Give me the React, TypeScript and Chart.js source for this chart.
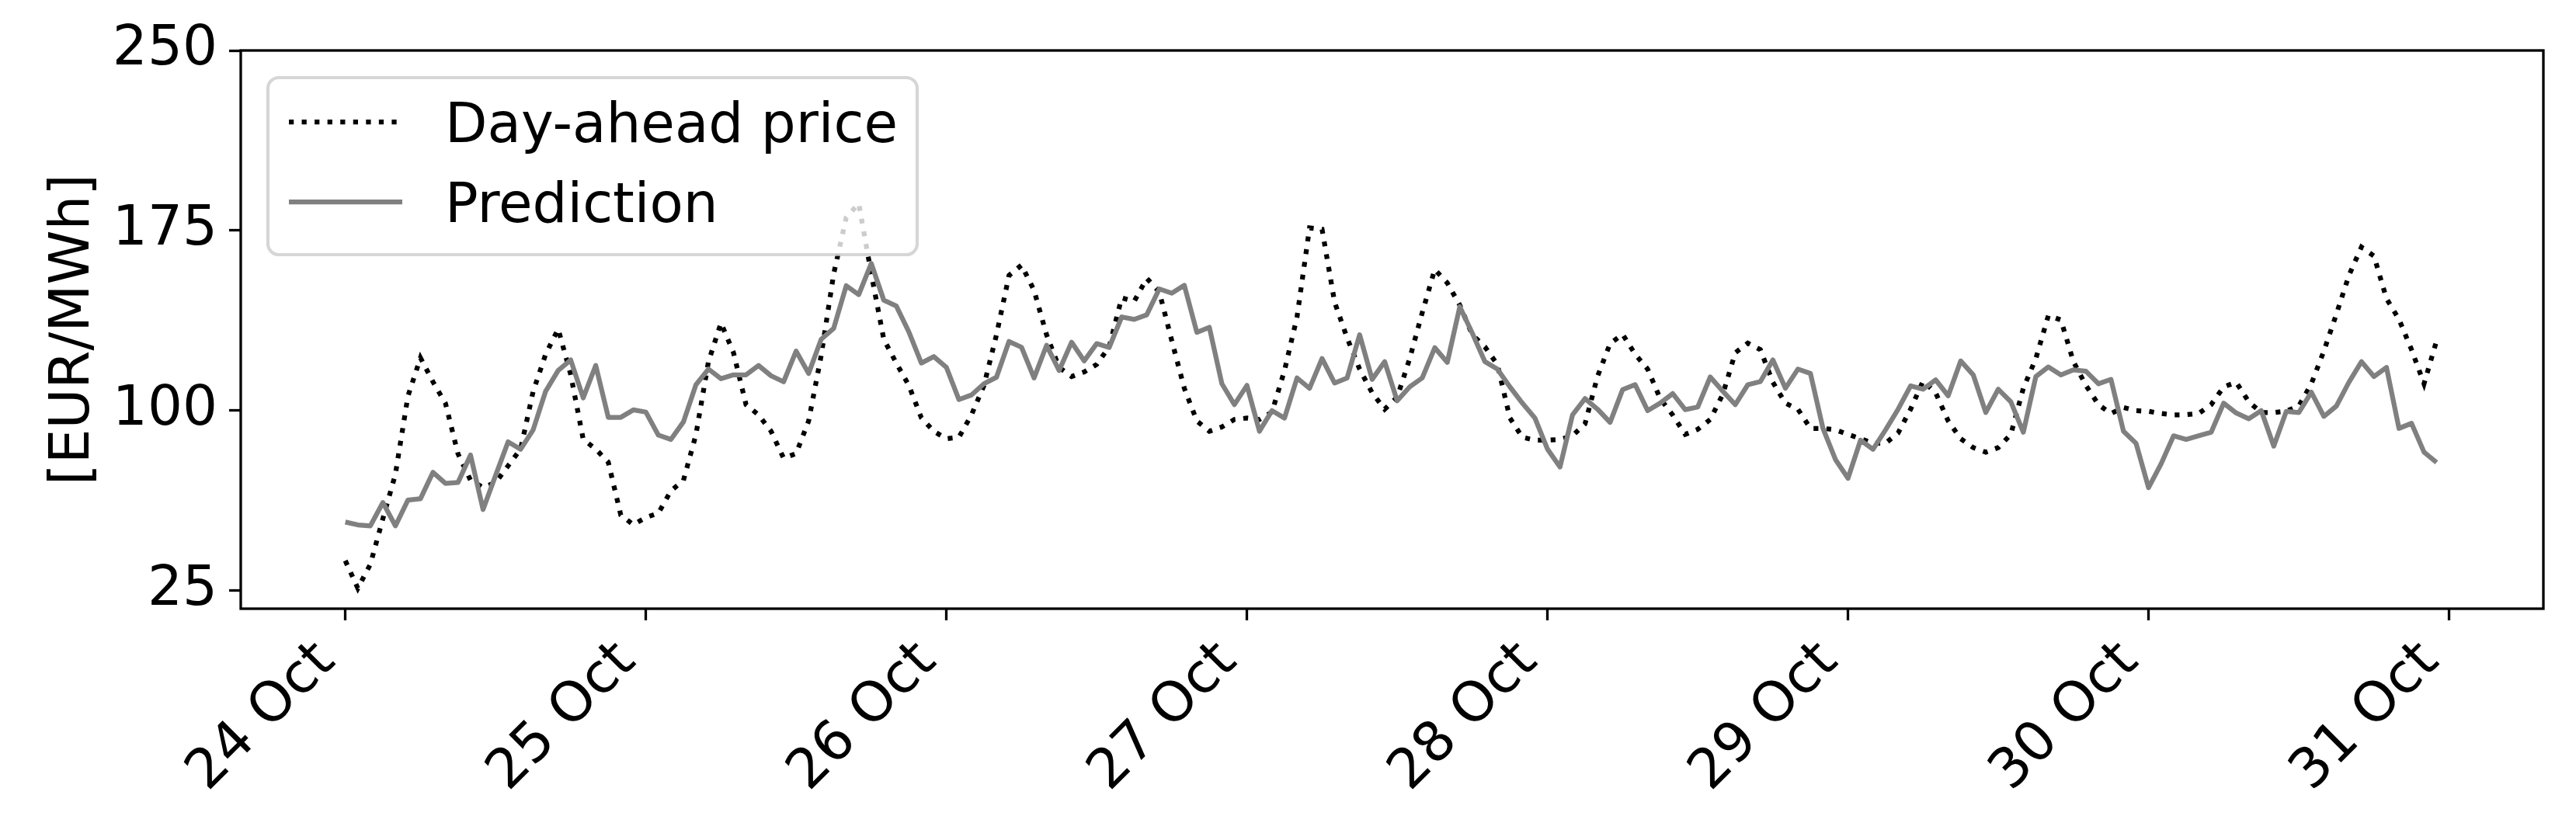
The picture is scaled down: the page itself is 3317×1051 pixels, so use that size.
import React, { useEffect, useRef } from 'react';
import { Chart, registerables } from 'chart.js';

Chart.register(...registerables);

// ---- data (hourly, 24 Oct 00:00 .. 30 Oct 23:00) ----
const dayLabels = ['24 Oct', '25 Oct', '26 Oct', '27 Oct', '28 Oct', '29 Oct', '30 Oct', '31 Oct'];
const yTickValues = [25, 100, 175, 250];
const yAxisTitle = '[EUR/MWh]';
const seriesNames = ['Day-ahead price', 'Prediction'];

const priceOct24 = [37.5, 26, 36, 55, 73.5, 106, 122, 112, 103, 82, 71, 68, 70, 77, 84, 108, 123.5, 134, 115, 88, 84, 78.5, 56.5, 52.5];
const priceOct25 = [55.5, 57.3, 66.6, 70.9, 90, 120.4, 136.5, 124.1, 102.5, 98.2, 91.4, 80.2, 82.1, 95.7, 122.9, 157, 180.4, 186.3, 157, 129.7, 119.8, 110.5, 97.0, 91.4];
const priceOct26 = [88.3, 88.9, 98.2, 110.5, 131.6, 156.3, 160.6, 150.1, 131.6, 118.0, 114.2, 116.1, 119.2, 126.6, 147.0, 145.5, 155.1, 149.5, 129.1, 109.3, 95.7, 91.4, 93.2, 96.3];
const priceOct27 = [96.9, 96.3, 99.4, 116.7, 139, 176.1, 175.5, 145.2, 130.3, 117.3, 107.4, 100.6, 105.6, 121.7, 140.8, 158.8, 153.2, 143.9, 131.6, 126.6, 119.2, 96.9, 88.9, 87.7];
const priceOct28 = [87.7, 88.0, 89.5, 94.5, 114.3, 127.9, 131.8, 123.5, 117.3, 105.0, 98.2, 90.1, 92.2, 96.3, 106.8, 124.1, 128.1, 125.4, 111.8, 103.1, 100.6, 92.6, 92.6, 92.0];
const priceOct29 = [90.1, 88.3, 86.4, 86.4, 90.7, 100.6, 112.4, 107.4, 95.7, 88.3, 84.6, 82.7, 84.6, 90.1, 109.3, 121.7, 139.6, 137.8, 120.4, 110.5, 102.5, 98.8, 101.3, 100.0];
const priceOct30 = [99.7, 98.8, 98.2, 98.3, 98.8, 102.5, 109.9, 111.8, 103.7, 99.2, 99.2, 99.8, 101.9, 111.2, 124.8, 140.2, 156.3, 168.1, 164.4, 146.7, 138.0, 125.4, 111.2, 129.1];

const predOct24 = [53.6, 52.4, 52.0, 61.7, 52.0, 62.7, 63.3, 74.3, 69.7, 70.1, 81.5, 58.8, 73.0, 87.0, 83.9, 92.0, 108.1, 116.7, 121.1, 105.3, 118.8, 97.2, 97.2, 100.3];
const predOct25 = [99.4, 89.8, 88.0, 95.3, 110.8, 117.3, 113.3, 114.9, 114.9, 118.8, 114.5, 112.0, 124.8, 115.5, 129.7, 134.3, 152.0, 148.3, 161.3, 146.0, 143.6, 132.8, 119.8, 122.5];
const predOct26 = [118.0, 104.6, 106.5, 111.2, 113.9, 128.8, 126.4, 113.6, 127.2, 116.7, 128.5, 120.7, 127.9, 126.3, 139.0, 138.0, 139.9, 150.7, 148.9, 152.2, 132.6, 134.7, 111.2, 102.5];
const predOct27 = [110.5, 91.4, 100.0, 96.9, 113.6, 109.3, 121.7, 111.5, 113.6, 131.6, 113.0, 120.4, 104.1, 109.9, 113.6, 126.2, 120.1, 143.3, 132.2, 120.4, 117.3, 109.9, 103.1, 96.9];
const predOct28 = [84.0, 76.5, 98.2, 105.0, 100.6, 95.1, 108.7, 110.8, 100.0, 103.1, 107.1, 100.4, 101.5, 114.0, 108.1, 102.5, 110.8, 112.1, 121.1, 109.3, 117.3, 115.5, 92.6, 79.6];
const predOct29 = [71.8, 87.7, 83.9, 92.0, 100.6, 110.3, 108.9, 112.8, 106.2, 120.7, 114.9, 99.2, 108.9, 103.7, 91.0, 114.2, 118.2, 114.9, 117.0, 116.4, 111.2, 113.0, 91.4, 86.4];
const predOct30 = [67.9, 77.8, 89.5, 88.0, 89.5, 91.0, 103.1, 99.0, 96.6, 100.0, 85.2, 99.7, 99.2, 107.7, 97.6, 101.9, 111.8, 120.4, 114.2, 118.0, 92.6, 94.7, 82.7, 78.4];

const price = [...priceOct24, ...priceOct25, ...priceOct26, ...priceOct27, ...priceOct28, ...priceOct29, ...priceOct30];
const prediction = [...predOct24, ...predOct25, ...predOct26, ...predOct27, ...predOct28, ...predOct29, ...predOct30];

// ---- layout / style ----
const W = 3317;
const H = 1051;
const FS = 70.8;
const FONT = "'DejaVu Sans', sans-serif";
const LW = 6.25;
const DOT = [6.25, 10.3];

export default function App() {
  const ref = useRef<HTMLCanvasElement>(null);

  useEffect(() => {
    document.body.style.margin = '0';
    const canvas = ref.current;
    if (!canvas) return;

    const framePlugin = {
      id: 'frameBox',
      afterDatasetsDraw(chart: any) {
        const { ctx, chartArea: a } = chart;
        ctx.save();
        ctx.strokeStyle = '#000';
        ctx.lineWidth = 3.3;
        ctx.strokeRect(a.left, a.top, a.right - a.left, a.bottom - a.top);
        ctx.restore();
      },
    };

    const legendPlugin = {
      id: 'mplLegend',
      afterDraw(chart: any) {
        const ctx = chart.ctx as CanvasRenderingContext2D;
        const x = 345, y = 100, w = 836, h = 228, r = 14;
        ctx.save();
        ctx.beginPath();
        ctx.moveTo(x + r, y);
        ctx.lineTo(x + w - r, y);
        ctx.arcTo(x + w, y, x + w, y + r, r);
        ctx.lineTo(x + w, y + h - r);
        ctx.arcTo(x + w, y + h, x + w - r, y + h, r);
        ctx.lineTo(x + r, y + h);
        ctx.arcTo(x, y + h, x, y + h - r, r);
        ctx.lineTo(x, y + r);
        ctx.arcTo(x, y, x + r, y, r);
        ctx.closePath();
        ctx.fillStyle = 'rgba(255,255,255,0.8)';
        ctx.fill();
        ctx.strokeStyle = 'rgba(204,204,204,0.8)';
        ctx.lineWidth = 4.2;
        ctx.stroke();

        // handles
        ctx.lineWidth = LW;
        ctx.lineCap = 'butt';
        ctx.strokeStyle = '#000';
        ctx.setLineDash(DOT);
        ctx.beginPath();
        ctx.moveTo(372, 157);
        ctx.lineTo(518, 157);
        ctx.stroke();
        ctx.setLineDash([]);
        ctx.strokeStyle = '#808080';
        ctx.beginPath();
        ctx.moveTo(372, 260);
        ctx.lineTo(518, 260);
        ctx.stroke();

        // labels
        ctx.fillStyle = '#000';
        ctx.font = `${FS}px ${FONT}`;
        ctx.textAlign = 'left';
        ctx.textBaseline = 'alphabetic';
        ctx.fillText(seriesNames[0], 573, 183);
        ctx.fillText(seriesNames[1], 573, 286);
        ctx.restore();
      },
    };

    const chart = new Chart(canvas, {
      type: 'line',
      data: {
        datasets: [
          {
            label: seriesNames[1],
            data: prediction.map((v, i) => ({ x: i, y: v })),
            borderColor: '#808080',
            backgroundColor: '#808080',
            borderWidth: LW,
            pointRadius: 0,
            tension: 0,
            borderJoinStyle: 'round',
            borderCapStyle: 'butt',
          },
          {
            label: seriesNames[0],
            data: price.map((v, i) => ({ x: i, y: v })),
            borderColor: '#000000',
            backgroundColor: '#000000',
            borderWidth: LW,
            borderDash: DOT,
            borderCapStyle: 'butt',
            pointRadius: 0,
            tension: 0,
          },
        ],
      },
      options: {
        responsive: false,
        devicePixelRatio: 1,
        animation: false,
        events: [],
        layout: { padding: { left: 0, top: 65, right: 42, bottom: 0 } },
        plugins: {
          legend: { display: false },
          tooltip: { enabled: false },
          title: { display: false },
        },
        scales: {
          x: {
            type: 'linear',
            min: -8.35,
            max: 175.53,
            afterFit: (s: any) => { s.height = 267; },
            afterBuildTicks: (s: any) => {
              s.ticks = dayLabels.map((_, i) => ({ value: i * 24 }));
            },
            border: { display: false },
            grid: {
              display: true,
              drawOnChartArea: false,
              drawTicks: true,
              tickLength: 15,
              tickWidth: 3.3,
              tickColor: '#000',
              color: '#000',
            },
            ticks: {
              autoSkip: false,
              minRotation: 45,
              maxRotation: 45,
              padding: 12,
              labelOffset: -24,
              color: '#000',
              font: { family: FONT, size: FS },
              callback: (v: any) => dayLabels[Math.round(Number(v) / 24)] ?? '',
            },
          },
          y: {
            type: 'linear',
            min: 17.5,
            max: 250,
            afterFit: (s: any) => { s.width = 310; },
            afterBuildTicks: (s: any) => {
              s.ticks = yTickValues.map((v) => ({ value: v }));
            },
            border: { display: false },
            grid: {
              display: true,
              drawOnChartArea: false,
              drawTicks: true,
              tickLength: 15,
              tickWidth: 3.3,
              tickColor: '#000',
              color: '#000',
            },
            ticks: {
              padding: 15,
              color: '#000',
              font: { family: FONT, size: FS },
              callback: (v: any) => String(v),
            },
            title: {
              display: true,
              text: yAxisTitle,
              color: '#000',
              font: { family: FONT, size: FS },
              padding: { top: 53, bottom: 0 },
            },
          },
        },
      },
      plugins: [framePlugin, legendPlugin],
    } as any);

    return () => chart.destroy();
  }, []);

  return (
    <div style={{ position: 'absolute', left: 0, top: 0, width: W, height: H, background: '#fff' }}>
      <canvas ref={ref} width={W} height={H} style={{ width: W, height: H, display: 'block' }} />
    </div>
  );
}
